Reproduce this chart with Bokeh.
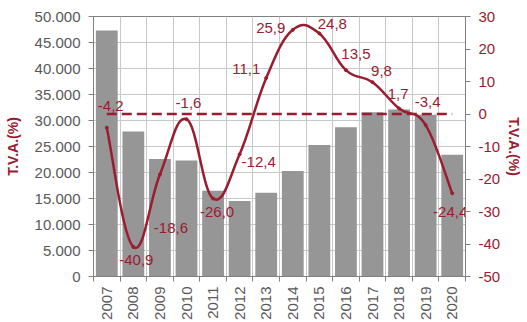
import numpy as np
from bokeh.plotting import figure
from bokeh.models import Range1d, LinearAxis, FixedTicker, ColumnDataSource, Label
from bokeh.embed import file_html
from bokeh.resources import INLINE
from bokeh.core.properties import value

# ---------------- data ----------------
years = ["2007", "2008", "2009", "2010", "2011", "2012", "2013",
         "2014", "2015", "2016", "2017", "2018", "2019", "2020"]
units = [47300, 27900, 22600, 22300, 16500, 14500, 16100,
         20300, 25300, 28700, 31600, 32100, 31100, 23400]
tva = [-4.2, -40.9, -18.6, -1.6, -26.0, -12.4, 11.1,
       25.9, 24.8, 13.5, 9.8, 1.7, -3.4, -24.4]
left_ticks = list(range(0, 50001, 5000))
right_ticks = list(range(-50, 31, 10))

# ---------------- styles ----------------
RED = "#9B1B30"
GRAY_TXT = "#595959"
FONT = "Liberation Sans"
label_dx = [4, 3, 11, 2, 4, 19, -20, -22, 13, 10, 9, -1, 2, -2]
label_dy = [-22, 13, 54, -16, 13, 8, -9, -2, -9, -16, -11, -14, -23, 19]

n = len(years)
xc = [i + 0.5 for i in range(n)]

p = figure(width=527, height=322, x_range=Range1d(0, n), y_range=Range1d(0, 50000),
           output_backend="svg", toolbar_location=None,
           min_border_left=93, min_border_right=62, min_border_top=16, min_border_bottom=46)
p.extra_y_ranges = {"tva": Range1d(-50, 30)}
p.background_fill_color = "white"
p.border_fill_color = "white"
p.outline_line_color = "#7f7f7f"

# grids
p.xgrid.ticker = FixedTicker(ticks=list(range(n + 1)))
p.ygrid.ticker = FixedTicker(ticks=left_ticks)
p.xgrid.grid_line_color = "#c8c8c8"
p.ygrid.grid_line_color = "#c8c8c8"

# bars
p.vbar(x=xc, top=units, width=0.82, color="#969696", line_color=None)

# zero dashed line
p.line(x=xc, y=[0] * n, y_range_name="tva", line_color=RED, line_width=2.5, line_dash="10 5")

# smooth line via bezier segments (Catmull-Rom style control points)
px = np.array(xc)
py = np.array(tva, dtype=float)
x0, y0, x1, y1, cx0, cy0, cx1, cy1 = [], [], [], [], [], [], [], []
k = 1 / 5.0
for i in range(n - 1):
    pm = max(i - 1, 0)
    pn = min(i + 2, n - 1)
    x0.append(px[i]); y0.append(py[i])
    x1.append(px[i + 1]); y1.append(py[i + 1])
    cx0.append(px[i] + (px[i + 1] - px[pm]) * k)
    cy0.append(py[i] + (py[i + 1] - py[pm]) * k)
    cx1.append(px[i + 1] - (px[pn] - px[i]) * k)
    cy1.append(py[i + 1] - (py[pn] - py[i]) * k)
p.bezier(x0=x0, y0=y0, x1=x1, y1=y1, cx0=cx0, cy0=cy0, cx1=cx1, cy1=cy1,
         y_range_name="tva", line_color=RED, line_width=2.5)
p.scatter(x=xc, y=tva, y_range_name="tva", size=3, color=RED)

# data labels
lab_src = ColumnDataSource(dict(
    x=xc, y=tva,
    txt=[f"{v:.1f}".replace(".", ",") for v in tva],
    dx=label_dx, dy=label_dy))
p.text(x="x", y="y", text="txt", x_offset="dx", y_offset="dy", source=lab_src,
       y_range_name="tva", text_color=RED, text_font=value(FONT), text_font_size="15px",
       text_align="center", text_baseline="middle")

# stray label at the far left edge
p.add_layout(Label(x=-3.46, y=-46, y_range_name="tva", text="0", text_color=RED,
                   text_font=FONT, text_font_size="15px", text_align="left",
                   text_baseline="middle"))

# x axis
xa = p.xaxis[0]
xa.ticker = FixedTicker(ticks=xc, minor_ticks=list(range(n + 1)))
xa.major_label_overrides = {x: y for x, y in zip(xc, years)}
xa.major_label_orientation = np.pi / 2
xa.major_tick_out = 0
xa.major_tick_in = 0
xa.minor_tick_out = 5
xa.minor_tick_in = 0
xa.minor_tick_line_color = "#808080"
xa.axis_line_color = "#808080"
xa.major_label_standoff = 5
xa.major_label_text_font = FONT
xa.major_label_text_font_size = "15px"
xa.major_label_text_color = GRAY_TXT

# left axis
ya = p.yaxis[0]
ya.ticker = FixedTicker(ticks=left_ticks)
ya.major_label_overrides = {t: f"{t:,}".replace(",", ".") for t in left_ticks}
ya.major_tick_out = 5
ya.major_tick_in = 0
ya.minor_tick_line_color = None
ya.major_tick_line_color = "#808080"
ya.axis_line_color = "#808080"
ya.major_label_standoff = 8
ya.major_label_text_font = FONT
ya.major_label_text_font_size = "15px"
ya.major_label_text_color = GRAY_TXT
ya.axis_label = "T.V.A.(%)"
ya.axis_label_text_font = FONT
ya.axis_label_text_font_size = "14px"
ya.axis_label_text_font_style = "bold"
ya.axis_label_text_color = RED
ya.axis_label_standoff = 11

# right axis
ra = LinearAxis(y_range_name="tva", ticker=FixedTicker(ticks=right_ticks))
ra.major_label_overrides = {t: str(t) for t in right_ticks}
ra.major_tick_out = 5
ra.major_tick_in = 0
ra.minor_tick_line_color = None
ra.major_tick_line_color = "#808080"
ra.axis_line_color = "#808080"
ra.major_label_standoff = 8
ra.major_label_text_font = FONT
ra.major_label_text_font_size = "15px"
ra.major_label_text_color = RED
ra.axis_label = "T.V.A.(%)"
ra.axis_label_text_font = FONT
ra.axis_label_text_font_size = "14px"
ra.axis_label_text_font_style = "bold"
ra.axis_label_text_color = RED
ra.axis_label_standoff = 3
p.add_layout(ra, "right")

open("out.html", "w").write(file_html(p, INLINE))
